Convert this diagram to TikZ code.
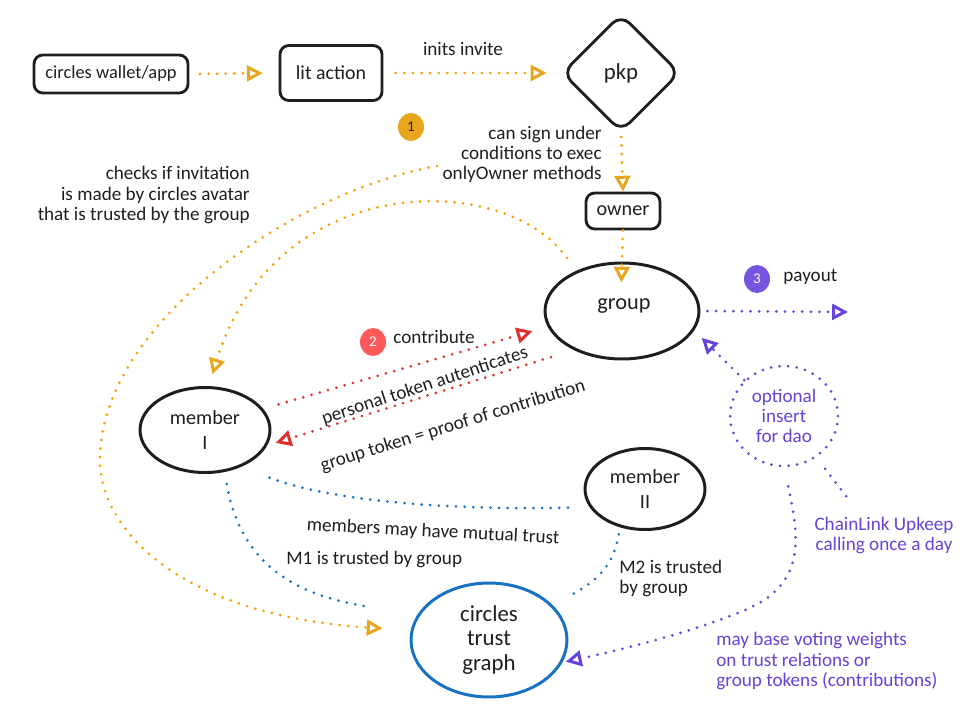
\documentclass[tikz,border=0pt]{standalone}
\usepackage{fontspec}
\setmainfont{Carlito}
\usepackage{tikz}
\usetikzlibrary{arrows.meta,shapes.geometric}
\definecolor{inkc}{HTML}{1E1E1E}
\definecolor{orangec}{HTML}{F59F00}
\definecolor{orangetip}{HTML}{E8A61C}
\definecolor{redc}{HTML}{E03131}
\definecolor{bluec}{HTML}{1971C2}
\definecolor{purplec}{HTML}{6741D9}
\tikzstyle{every node}=[text=inkc,font=\fontsize{10.9}{11.4}\selectfont]
\tikzstyle{bigtext}=[font=\fontsize{11.5}{14.2}\selectfont,align=center]
\tikzstyle{blockbox}=[draw=inkc,line width=1.6pt,rounded corners=5pt,inner sep=0pt,bigtext]
\tikzstyle{round}=[draw=inkc,line width=1.7pt,ellipse,inner sep=0pt,bigtext]
\tikzstyle{badge}=[ellipse,minimum width=0.52cm,minimum height=0.56cm,inner sep=0pt,font=\fontsize{8.5}{10}\selectfont]
\tikzstyle{note}=[align=left,anchor=west,inner sep=0pt]
\tikzstyle{dots}=[line width=1.7pt,line cap=round,dash pattern=on 0pt off 4.9pt]
\tikzstyle{orangeline}=[dots,draw=orangec,-{Triangle[open,length=9pt,width=9pt,color=orangetip,line cap=butt]}]
\tikzstyle{redline}=[dots,draw=redc,-{Triangle[open,length=9pt,width=9pt,line cap=butt]}]
\tikzstyle{purpleline}=[dots,draw=purplec,-{Triangle[open,length=9pt,width=9pt,line cap=butt]}]
\tikzstyle{blueline}=[dots,draw=bluec]

\begin{document}
\begin{tikzpicture}[x=0.02cm,y=-0.02cm]
 \useasboundingbox (0,0) rectangle (962,710);
 \node[blockbox,minimum width=3.08cm,minimum height=0.76cm] (wallet) at (111,74) {\fontsize{10.5}{12}\selectfont circles wallet/app};
 \node[blockbox,minimum width=2.04cm,minimum height=1.1cm] (lit) at (331,73) {\fontsize{11.3}{12}\selectfont lit action};
 \node[blockbox,diamond,minimum width=2.36cm,minimum height=2.36cm,rounded corners=7pt] (pkp) at (621,73) {\fontsize{13}{14}\selectfont pkp};
 \node[blockbox,minimum width=1.48cm,minimum height=0.72cm] (owner) at (623,211) {owner};
 \node[round,minimum width=3.08cm,minimum height=1.92cm] (group) at (622,311) {};
 \node[bigtext,font=\fontsize{12.7}{14}\selectfont] (grouplabel) at (624,306) {group};
 \node[round,minimum width=2.6cm,minimum height=1.7cm] (memberI) at (205,430) {member\\I};
 \node[round,minimum width=2.4cm,minimum height=1.62cm] (memberII) at (645,489) {member\\II};
 \node[round,draw=bluec,minimum width=3.12cm,minimum height=2.28cm,font=\fontsize{13}{14.2}\selectfont] (trust) at (489,640) {circles\\trust\\graph};
 \node[draw=purplec,dots,ellipse,minimum width=2.16cm,minimum height=2cm,inner sep=0pt,align=center,text=purplec] (dao) at (784,416) {optional\\insert\\for dao};

 \node[badge,fill=orangetip] (one) at (411,127) {1};
 \node[badge,fill=red!65!white,text=white] (two) at (373,342) {2};
 \node[badge,fill=purplec!90!white,text=white] (three) at (757,279) {3};

 \node[inner sep=0pt] (invite) at (463,49) {inits invite};
 \node[align=right,anchor=east,inner sep=0pt] (sign) at (602,154) {can sign under\hspace{3.4pt}\\conditions to exec\hspace{3.4pt}\\onlyOwner methods};
 \node[align=right,anchor=east,inner sep=0pt] (checks) at (250,195) {checks if invitation\\is made by circles avatar\\that is trusted by the group\hspace{7.4pt}};
 \node[note] (contribute) at (393,337) {contribute};
 \node[note] (payout) at (783,277) {payout};
 \node[inner sep=0pt,rotate=18] (personal) at (425,386) {personal token autenticates};
 \node[inner sep=0pt,rotate=17] (proof) at (453,426) {group token = proof of contribution};
 \node[inner sep=0pt,rotate=-3] (mutual) at (433,532) {members may have mutual trust};
 \node[note] (mone) at (286,559) {M1 is trusted by group};
 \node[note] (mtwo) at (619,578) {M2 is trusted\\by group};
 \node[align=center,text=purplec,inner sep=0pt] (upkeep) at (884,535) {ChainLink Upkeep\\calling once a day};
 \node[note,text=purplec] (voting) at (716,661) {may base voting weights\\on trust relations or\\group tokens (contributions)};

 \coordinate (checkstart) at (437,166);
 \coordinate (payoutend) at (848,312);
 \coordinate (upkeepend) at (849,500);

 \draw[orangeline,shorten <=6pt,shorten >=9pt] (wallet.east) -- (lit.west);
 \draw[orangeline,shorten <=7pt,shorten >=8pt] (lit.east) -- (pkp.west);
 \draw[orangeline,shorten <=2pt] (pkp.south) -- (owner.north);
 \draw[orangeline,shorten >=-12pt] (owner.south) -- (group.north);
 \draw[orangeline,shorten <=9pt,shorten >=7pt] (group.139) .. controls (505,170) and (275,170) .. (memberI.85);
 \draw[orangeline,shorten >=16pt] (checkstart) .. controls (300,190) and (100,320) .. (100,460) .. controls (100,530) and (180,615) .. (trust.173);

 \draw[redline,shorten <=9pt,shorten >=9pt] (memberI.20) -- (group.192);
 \draw[redline,shorten <=13.6pt,shorten >=5pt] (group.219) -- (memberI.-14);

 \draw[blueline,shorten <=7pt,shorten >=28pt] (memberI.-65) .. controls (240,560) and (290,595) .. (trust.160);
 \draw[blueline,shorten <=17pt,shorten >=10pt] (memberI.-45) .. controls (340,505) and (480,510) .. (memberII.198);
 \draw[blueline,shorten <=4pt,shorten >=9pt] (memberII.237) .. controls (613,565) and (600,580) .. (trust.29);

 \draw[purpleline,shorten <=4pt] (group.east) -- (payoutend);
 \draw[purpleline,shorten >=6pt] (dao.138) -- (group.-15);
 \draw[purpleline,shorten <=11pt,shorten >=2pt] (dao.-90) .. controls (800,540) and (805,585) .. (745,610) .. controls (690,633) and (620,650) .. (trust.-17);
 \draw[dots,draw=purplec,shorten <=8pt] (dao.-52) -- (upkeepend);
\end{tikzpicture}
\end{document}
